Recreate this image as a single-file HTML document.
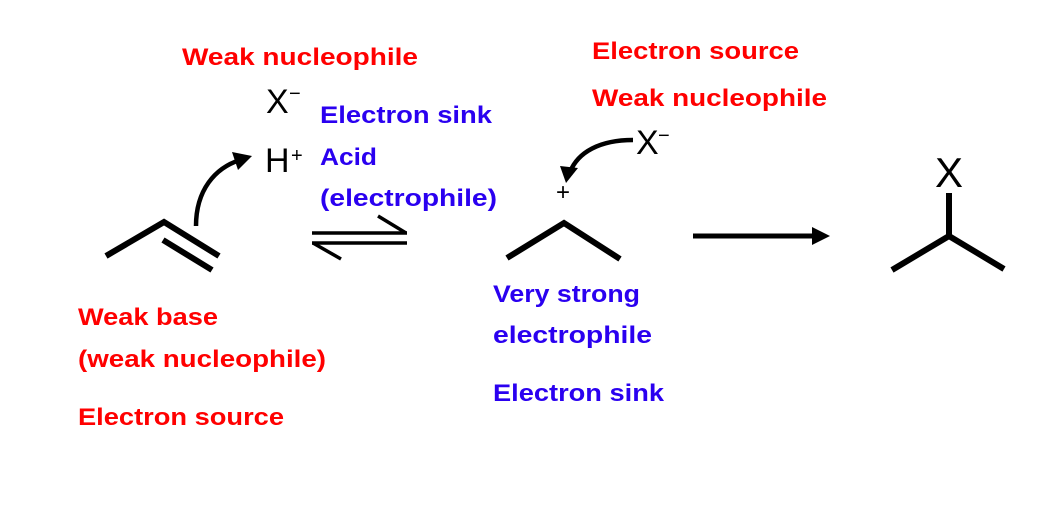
<!DOCTYPE html>
<html><head><meta charset="utf-8"><style>
html,body{margin:0;padding:0;background:#fff;}
svg{display:block;}
.r{fill:#ff0000;font:bold 24px "Liberation Sans",sans-serif;}
.b{fill:#2a00f0;font:bold 24px "Liberation Sans",sans-serif;}
.k{fill:#000;font:34px "Liberation Sans",sans-serif;}
</style></head><body>
<svg width="1048" height="517" viewBox="0 0 1048 517" xmlns="http://www.w3.org/2000/svg">
<defs>
<marker id="ah" viewBox="0 0 10 10" refX="8" refY="5" markerWidth="5" markerHeight="5" orient="auto" markerUnits="strokeWidth"><path d="M0,0 L10,5 L0,10 z" fill="#000"/></marker>
</defs>
<g stroke="#000" stroke-width="6" fill="none" stroke-linecap="butt">
<!-- propene -->
<polyline points="106,256 164,222 219,256"/>
<line x1="163" y1="240" x2="212" y2="270"/>
<!-- cation -->
<polyline points="507,258 564,223 620,259"/>
<!-- product -->
<polyline points="892,270 949,236 1004,269"/>
<line x1="949" y1="236" x2="949" y2="193"/>
</g>
<!-- curved arrows -->
<path d="M196,226 C196,190 215,168 240,160" stroke="#000" stroke-width="4.5" fill="none"/>
<path d="M252,156 L232,152 L238,170 z" fill="#000"/>
<path d="M633,140 C600,140 578,152 570,172" stroke="#000" stroke-width="4.5" fill="none"/>
<path d="M566,183 L560,166 L578,168 z" fill="#000"/>
<!-- equilibrium -->
<g stroke="#000" stroke-width="3.5" fill="none">
<line x1="312" y1="233" x2="407" y2="233"/>
<line x1="378" y1="216" x2="406" y2="233"/>
<line x1="312" y1="243" x2="407" y2="243"/>
<line x1="313" y1="243" x2="341" y2="259"/>
</g>
<!-- forward arrow -->
<line x1="693" y1="236" x2="815" y2="236" stroke="#000" stroke-width="5"/>
<path d="M830,236 L812,227 L812,245 z" fill="#000"/>
<!-- black labels -->
<text class="k" x="266" y="113">X</text>
<text x="289" y="100" style="font:20px 'Liberation Sans',sans-serif">−</text>
<text class="k" x="265" y="172">H</text>
<text x="291" y="162" style="font:20px 'Liberation Sans',sans-serif">+</text>
<text class="k" x="636" y="154">X</text>
<text x="658" y="142" style="font:20px 'Liberation Sans',sans-serif">−</text>
<text x="556" y="200" style="font:24px 'Liberation Sans',sans-serif">+</text>
<text x="935" y="187" style="font:42px 'Liberation Sans',sans-serif">X</text>
<!-- red -->
<text class="r" x="182" y="65" textLength="236" lengthAdjust="spacingAndGlyphs">Weak nucleophile</text>
<text class="r" x="592" y="59" textLength="207" lengthAdjust="spacingAndGlyphs">Electron source</text>
<text class="r" x="592" y="106" textLength="235" lengthAdjust="spacingAndGlyphs">Weak nucleophile</text>
<text class="r" x="78" y="325" textLength="140" lengthAdjust="spacingAndGlyphs">Weak base</text>
<text class="r" x="78" y="367" textLength="248" lengthAdjust="spacingAndGlyphs">(weak nucleophile)</text>
<text class="r" x="78" y="425" textLength="206" lengthAdjust="spacingAndGlyphs">Electron source</text>
<!-- blue -->
<text class="b" x="320" y="123" textLength="172" lengthAdjust="spacingAndGlyphs">Electron sink</text>
<text class="b" x="320" y="165" textLength="57" lengthAdjust="spacingAndGlyphs">Acid</text>
<text class="b" x="320" y="206" textLength="177" lengthAdjust="spacingAndGlyphs">(electrophile)</text>
<text class="b" x="493" y="302" textLength="147" lengthAdjust="spacingAndGlyphs">Very strong</text>
<text class="b" x="493" y="343" textLength="159" lengthAdjust="spacingAndGlyphs">electrophile</text>
<text class="b" x="493" y="401" textLength="171" lengthAdjust="spacingAndGlyphs">Electron sink</text>
</svg>
</body></html>
